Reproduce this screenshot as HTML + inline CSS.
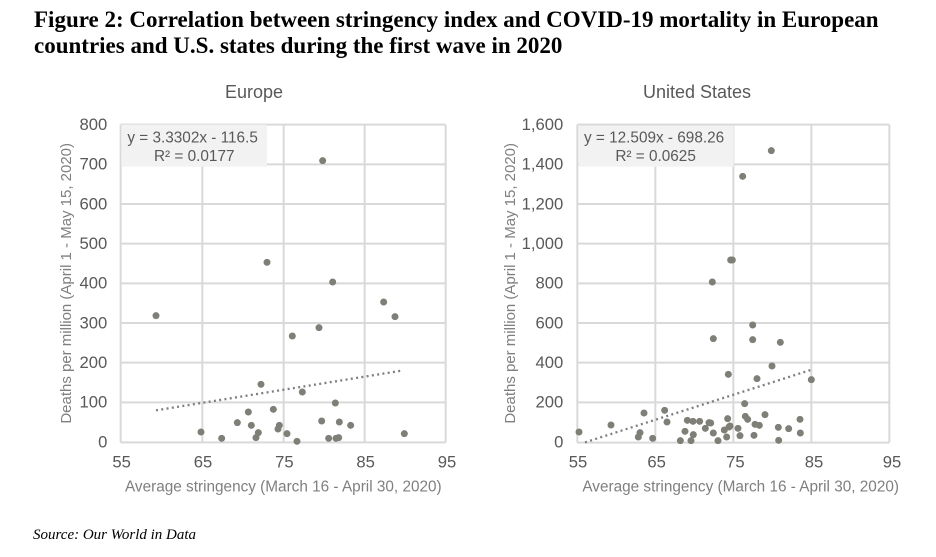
<!DOCTYPE html>
<html><head><meta charset="utf-8"><style>
body{margin:0;background:#fff;width:936px;height:557px;overflow:hidden}
svg{display:block}
</style></head><body>
<svg width="936" height="557" xmlns="http://www.w3.org/2000/svg">
<g font-family="Liberation Serif, serif" font-weight="bold" font-size="23" fill="#000">
<text x="34" y="27">Figure 2: Correlation between stringency index and COVID-19 mortality in European</text>
<text x="34" y="53">countries and U.S. states during the first wave in 2020</text>
</g>
<text x="33" y="539" font-family="Liberation Serif, serif" font-style="italic" font-size="15">Source: Our World in Data</text>

<g font-family="Liberation Sans, sans-serif" fill="#595959">
<text x="254" y="98" font-size="18" text-anchor="middle">Europe</text>
<text x="697" y="98" font-size="18" text-anchor="middle">United States</text>
</g>

<!-- Europe -->
<g transform="translate(50,110) scale(0.33333)">
<g stroke="#d9d9d9" stroke-width="6" fill="none">
<path d="M212 44H1187M212 163H1187M212 282H1187M212 401H1187M212 520H1187M212 639H1187M212 758H1187M212 877H1187M212 997H1187"/>
<path d="M212 44V997M457 44V997M701 44V997M944 44V997M1187 44V997"/>
</g>
<rect x="214" y="44" width="437" height="126" fill="#f2f2f2"/>
<g font-family="Liberation Sans, sans-serif" font-size="50" fill="#595959">
<text x="232" y="98" font-size="46">y = 3.3302x - 116.5</text>
<text x="312" y="153" font-size="46">R² = 0.0177</text>
<g text-anchor="end"><text x="172" y="60">800</text><text x="172" y="179">700</text><text x="172" y="298">600</text><text x="172" y="417">500</text><text x="172" y="536">400</text><text x="172" y="655">300</text><text x="172" y="774">200</text><text x="172" y="893">100</text><text x="172" y="1013">0</text></g>
<g text-anchor="middle"><text x="215" y="1073">55</text><text x="459" y="1073">65</text><text x="703" y="1073">75</text><text x="947" y="1073">85</text><text x="1191" y="1073">95</text></g>
<text x="700" y="1145" text-anchor="middle" fill="#7f7f7f" font-size="46">Average stringency (March 16 - April 30, 2020)</text>
<text transform="translate(63,520) rotate(-90)" text-anchor="middle" fill="#7f7f7f" font-size="45">Deaths per million (April 1 - May 15, 2020)</text>
</g>
<path d="M318 901L1055 782" stroke="#7f7f7f" stroke-width="7" stroke-dasharray="6 10"/>
<g fill="#7f7f77">
<circle cx="318" cy="617" r="10.5"/><circle cx="453" cy="966" r="10.5"/><circle cx="515" cy="985" r="10.5"/><circle cx="562" cy="938" r="10.5"/><circle cx="595" cy="906" r="10.5"/><circle cx="604" cy="946" r="10.5"/><circle cx="618" cy="983" r="10.5"/><circle cx="625" cy="968" r="10.5"/><circle cx="633" cy="823" r="10.5"/><circle cx="651" cy="457" r="10.5"/><circle cx="670" cy="898" r="10.5"/><circle cx="684" cy="957" r="10.5"/><circle cx="688" cy="946" r="10.5"/><circle cx="711" cy="971" r="10.5"/><circle cx="727" cy="678" r="10.5"/><circle cx="741" cy="994" r="10.5"/><circle cx="757" cy="846" r="10.5"/><circle cx="807" cy="653" r="10.5"/><circle cx="815" cy="933" r="10.5"/><circle cx="818" cy="152" r="10.5"/><circle cx="836" cy="985" r="10.5"/><circle cx="848" cy="516" r="10.5"/><circle cx="856" cy="879" r="10.5"/><circle cx="858" cy="985" r="10.5"/><circle cx="866" cy="983" r="10.5"/><circle cx="868" cy="936" r="10.5"/><circle cx="902" cy="946" r="10.5"/><circle cx="1001" cy="576" r="10.5"/><circle cx="1035" cy="620" r="10.5"/><circle cx="1063" cy="971" r="10.5"/>
</g>
</g>

<!-- US -->
<g transform="translate(500,110) scale(0.33333)">
<g stroke="#d9d9d9" stroke-width="6" fill="none">
<path d="M232 44H1168M232 163H1168M232 282H1168M232 401H1168M232 520H1168M232 639H1168M232 758H1168M232 877H1168M232 998H1168"/>
<path d="M232 44V998M466 44V998M700 44V998M934 44V998M1168 44V998"/>
</g>
<rect x="236" y="47" width="465" height="123" fill="#f2f2f2"/>
<g font-family="Liberation Sans, sans-serif" font-size="50" fill="#595959">
<text x="252" y="98" font-size="46">y = 12.509x - 698.26</text>
<text x="346" y="153" font-size="46">R² = 0.0625</text>
<g text-anchor="end"><text x="190" y="60">1,600</text><text x="190" y="179">1,400</text><text x="190" y="298">1,200</text><text x="190" y="417">1,000</text><text x="190" y="536">800</text><text x="190" y="655">600</text><text x="190" y="774">400</text><text x="190" y="893">200</text><text x="190" y="1013">0</text></g>
<g text-anchor="middle"><text x="234" y="1073">55</text><text x="470" y="1073">65</text><text x="706" y="1073">75</text><text x="942" y="1073">85</text><text x="1176" y="1073">95</text></g>
<text x="722" y="1145" text-anchor="middle" fill="#7f7f7f" font-size="46">Average stringency (March 16 - April 30, 2020)</text>
<text transform="translate(45,520) rotate(-90)" text-anchor="middle" fill="#7f7f7f" font-size="45">Deaths per million (April 1 - May 15, 2020)</text>
</g>
<path d="M255 997L935 779" stroke="#7f7f7f" stroke-width="7" stroke-dasharray="6 10"/>
<g fill="#7f7f77">
<circle cx="237" cy="966" r="10.5"/><circle cx="333" cy="945" r="10.5"/><circle cx="415" cy="981" r="10.5"/><circle cx="420" cy="968" r="10.5"/><circle cx="432" cy="909" r="10.5"/><circle cx="458" cy="985" r="10.5"/><circle cx="494" cy="901" r="10.5"/><circle cx="501" cy="936" r="10.5"/><circle cx="541" cy="992" r="10.5"/><circle cx="555" cy="964" r="10.5"/><circle cx="562" cy="931" r="10.5"/><circle cx="573" cy="992" r="10.5"/><circle cx="579" cy="934" r="10.5"/><circle cx="580" cy="974" r="10.5"/><circle cx="599" cy="934" r="10.5"/><circle cx="616" cy="955" r="10.5"/><circle cx="627" cy="938" r="10.5"/><circle cx="632" cy="939" r="10.5"/><circle cx="637" cy="516" r="10.5"/><circle cx="640" cy="686" r="10.5"/><circle cx="640" cy="969" r="10.5"/><circle cx="654" cy="992" r="10.5"/><circle cx="673" cy="960" r="10.5"/><circle cx="680" cy="981" r="10.5"/><circle cx="683" cy="926" r="10.5"/><circle cx="685" cy="793" r="10.5"/><circle cx="687" cy="951" r="10.5"/><circle cx="690" cy="948" r="10.5"/><circle cx="692" cy="450" r="10.5"/><circle cx="697" cy="450" r="10.5"/><circle cx="714" cy="955" r="10.5"/><circle cx="720" cy="977" r="10.5"/><circle cx="728" cy="199" r="10.5"/><circle cx="734" cy="881" r="10.5"/><circle cx="736" cy="919" r="10.5"/><circle cx="743" cy="928" r="10.5"/><circle cx="758" cy="645" r="10.5"/><circle cx="758" cy="689" r="10.5"/><circle cx="762" cy="976" r="10.5"/><circle cx="765" cy="943" r="10.5"/><circle cx="771" cy="806" r="10.5"/><circle cx="778" cy="946" r="10.5"/><circle cx="795" cy="914" r="10.5"/><circle cx="814" cy="122" r="10.5"/><circle cx="816" cy="768" r="10.5"/><circle cx="835" cy="952" r="10.5"/><circle cx="836" cy="991" r="10.5"/><circle cx="841" cy="697" r="10.5"/><circle cx="866" cy="956" r="10.5"/><circle cx="900" cy="928" r="10.5"/><circle cx="901" cy="969" r="10.5"/><circle cx="934" cy="809" r="10.5"/>
</g>
</g>
</svg>
</body></html>
